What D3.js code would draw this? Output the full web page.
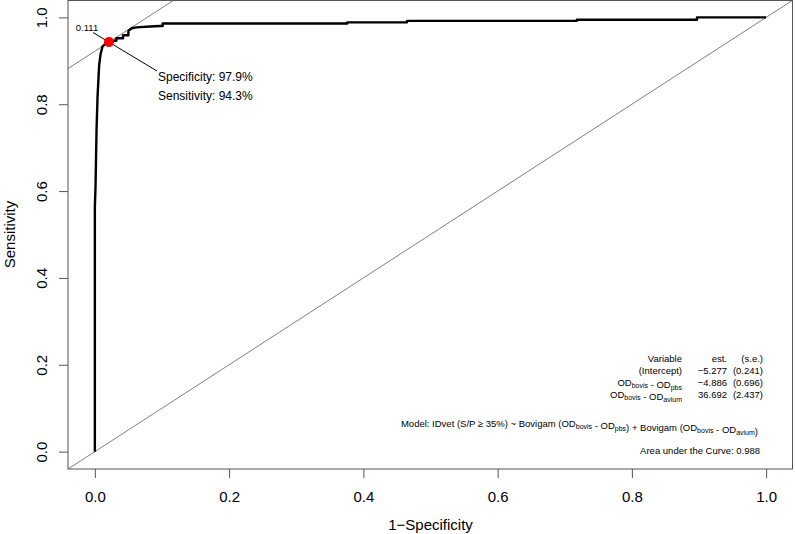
<!DOCTYPE html>
<html>
<head>
<meta charset="utf-8">
<script src="https://cdn.jsdelivr.net/npm/d3@7"></script>
<style>
html,body{margin:0;padding:0;background:#fff;}
svg{display:block;font-family:"Liberation Sans",Arial,Helvetica,sans-serif;}
</style>
</head>
<body>
<svg id="chart" width="795" height="534"></svg>
<script>
// ---- data ----
const rocFpr = [0,0,0,0.001,0.0025,0.004,0.0064,0.0085,0.0114,0.015,0.0198,0.021,0.027,0.027,0.032,0.032,0.040,0.042,0.042,0.047,0.050,0.050,0.055,0.062,0.082,0.097,0.101,0.101,0.376,0.376,0.465,0.465,0.718,0.718,0.897,0.897,1.0];
const rocTpr = [0,0.45,0.563,0.61,0.74,0.817,0.89,0.915,0.933,0.938,0.942,0.943,0.943,0.946,0.946,0.952,0.952,0.952,0.959,0.959,0.959,0.969,0.975,0.977,0.979,0.980,0.980,0.986,0.986,0.9885,0.9885,0.992,0.992,0.9945,0.9945,1.0,1.0];
const bestThreshold = "0.111";
const bestSpecificity = 0.979;
const bestSensitivity = 0.943;
const tickValues = [0,0.2,0.4,0.6,0.8,1.0];
const tickLabels = ["0.0","0.2","0.4","0.6","0.8","1.0"];
const coefVariables = [["(Intercept)"],[["OD","bovis"],[" - OD","pbs"]],[["OD","bovis"],[" - OD","avium"]]];
const coefEstimates = ["\u22125.277","\u22124.886","36.692"];
const coefSE = ["(0.241)","(0.696)","(2.437)"];
const aucValue = "0.988";

// ---- layout ----
const svg = d3.select("#chart");
const box = {left:68, right:793, top:0, bottom:469};
const x = d3.scaleLinear().domain([-0.04,1.04]).range([box.left, box.right]);
const y = d3.scaleLinear().domain([-0.04,1.04]).range([box.bottom, box.top]);

svg.append("defs").append("clipPath").attr("id","clip")
  .append("rect").attr("x",box.left).attr("y",box.top)
  .attr("width",box.right-box.left).attr("height",box.bottom-box.top);

const plot = svg.append("g").attr("clip-path","url(#clip)");

// diagonal reference line
plot.append("line")
  .attr("x1",x(-0.1)).attr("y1",y(-0.1)).attr("x2",x(1.1)).attr("y2",y(1.1))
  .attr("stroke","#808080").attr("stroke-width",1);

// iso-Youden line through the best point (slope 1)
const icpt = bestSensitivity - (1-bestSpecificity);
plot.append("line")
  .attr("x1",x(-0.1)).attr("y1",y(-0.1+icpt)).attr("x2",x(0.2)).attr("y2",y(0.2+icpt))
  .attr("stroke","#808080").attr("stroke-width",1);

// ROC curve
const line = d3.line().x((d,i)=>x(rocFpr[i])).y((d,i)=>y(rocTpr[i]));
plot.append("path").datum(rocFpr).attr("d",line)
  .attr("fill","none").attr("stroke","#000").attr("stroke-width",2.4)
  .attr("stroke-linejoin","round");

// leader line through best point
const bx = x(1-bestSpecificity), by = y(bestSensitivity);
svg.append("line").attr("x1",93).attr("y1",32.5).attr("x2",157).attr("y2",71)
  .attr("stroke","#000").attr("stroke-width",1);
svg.append("circle").attr("cx",bx).attr("cy",by).attr("r",5).attr("fill","#ff0000");

svg.append("text").attr("x",87).attr("y",30.5).attr("text-anchor","middle")
  .attr("font-size",9.5).text(bestThreshold);
svg.append("text").attr("x",158).attr("y",81).attr("font-size",12)
  .text("Specificity: " + (bestSpecificity*100).toFixed(1) + "%");
svg.append("text").attr("x",158).attr("y",100).attr("font-size",12)
  .text("Sensitivity: " + (bestSensitivity*100).toFixed(1) + "%");

// box
svg.append("rect").attr("x",box.left).attr("y",box.top+0.5)
  .attr("width",box.right-box.left-0.5).attr("height",box.bottom-box.top-0.5)
  .attr("fill","none").attr("stroke","#555").attr("stroke-width",1);

// axes
const xAxis = d3.axisBottom(x).tickValues(tickValues).tickSize(9)
  .tickFormat((d,i)=>tickLabels[i]);
const gx = svg.append("g").attr("transform",`translate(0,${box.bottom})`).call(xAxis);
gx.select(".domain").remove();
gx.selectAll("line").attr("stroke","#555");
gx.selectAll("text").attr("font-size",15).attr("font-family","Liberation Sans, Arial, sans-serif")
  .attr("y",28).attr("dy","0.35em").attr("fill","#000");

const yAxis = d3.axisLeft(y).tickValues(tickValues).tickSize(9)
  .tickFormat((d,i)=>tickLabels[i]);
const gy = svg.append("g").attr("transform",`translate(${box.left},0)`).call(yAxis);
gy.select(".domain").remove();
gy.selectAll("line").attr("stroke","#555");
gy.selectAll("text").attr("font-size",15).attr("font-family","Liberation Sans, Arial, sans-serif")
  .attr("x",0).attr("dy","0.35em").attr("text-anchor","middle")
  .attr("transform","translate(-26,0) rotate(-90)").attr("fill","#000");

// axis titles
svg.append("text").attr("x",(x(0)+x(1))/2).attr("y",530).attr("text-anchor","middle")
  .attr("font-size",15).text("1\u2212Specificity");
svg.append("text").attr("transform",`translate(15,${(y(0)+y(1))/2}) rotate(-90)`)
  .attr("text-anchor","middle").attr("font-size",15).text("Sensitivity");

// coefficient table
const fs = 9.5, subfs = 7;
const colLabel = 682, colEst = 727, colSE = 763;
const rowY = [361.5, 373.5, 385.5, 397.5];
function richText(g, xPos, yPos, parts){
  const t = g.append("text").attr("x",xPos).attr("y",yPos).attr("text-anchor","end").attr("font-size",fs);
  parts.forEach(p=>{
    if(typeof p === "string"){ t.append("tspan").text(p); }
    else {
      t.append("tspan").text(p[0]);
      t.append("tspan").attr("font-size",subfs).attr("dy",2).text(p[1]);
      t.append("tspan").attr("dy",-2).text("");
    }
  });
  return t;
}
const tg = svg.append("g");
tg.append("text").attr("x",colLabel).attr("y",rowY[0]).attr("text-anchor","end").attr("font-size",fs).text("Variable");
tg.append("text").attr("x",colEst).attr("y",rowY[0]).attr("text-anchor","end").attr("font-size",fs).text("est.");
tg.append("text").attr("x",colSE).attr("y",rowY[0]).attr("text-anchor","end").attr("font-size",fs).text("(s.e.)");
coefVariables.forEach((v,i)=>{
  richText(tg, colLabel, rowY[i+1], v);
  tg.append("text").attr("x",colEst).attr("y",rowY[i+1]).attr("text-anchor","end").attr("font-size",fs).text(coefEstimates[i]);
  tg.append("text").attr("x",colSE).attr("y",rowY[i+1]).attr("text-anchor","end").attr("font-size",fs).text(coefSE[i]);
});
richText(tg, 758, 426.5, ["Model:  IDvet (S/P \u2265 35%) ~ Bovigam (", ["OD","bovis"], [" - OD","pbs"], ") + Bovigam (", ["OD","bovis"], [" - OD","avium"], ")"]);
tg.append("text").attr("x",760).attr("y",453.5).attr("text-anchor","end").attr("font-size",fs)
  .text("Area under the Curve: " + aucValue);
</script>
</body>
</html>
